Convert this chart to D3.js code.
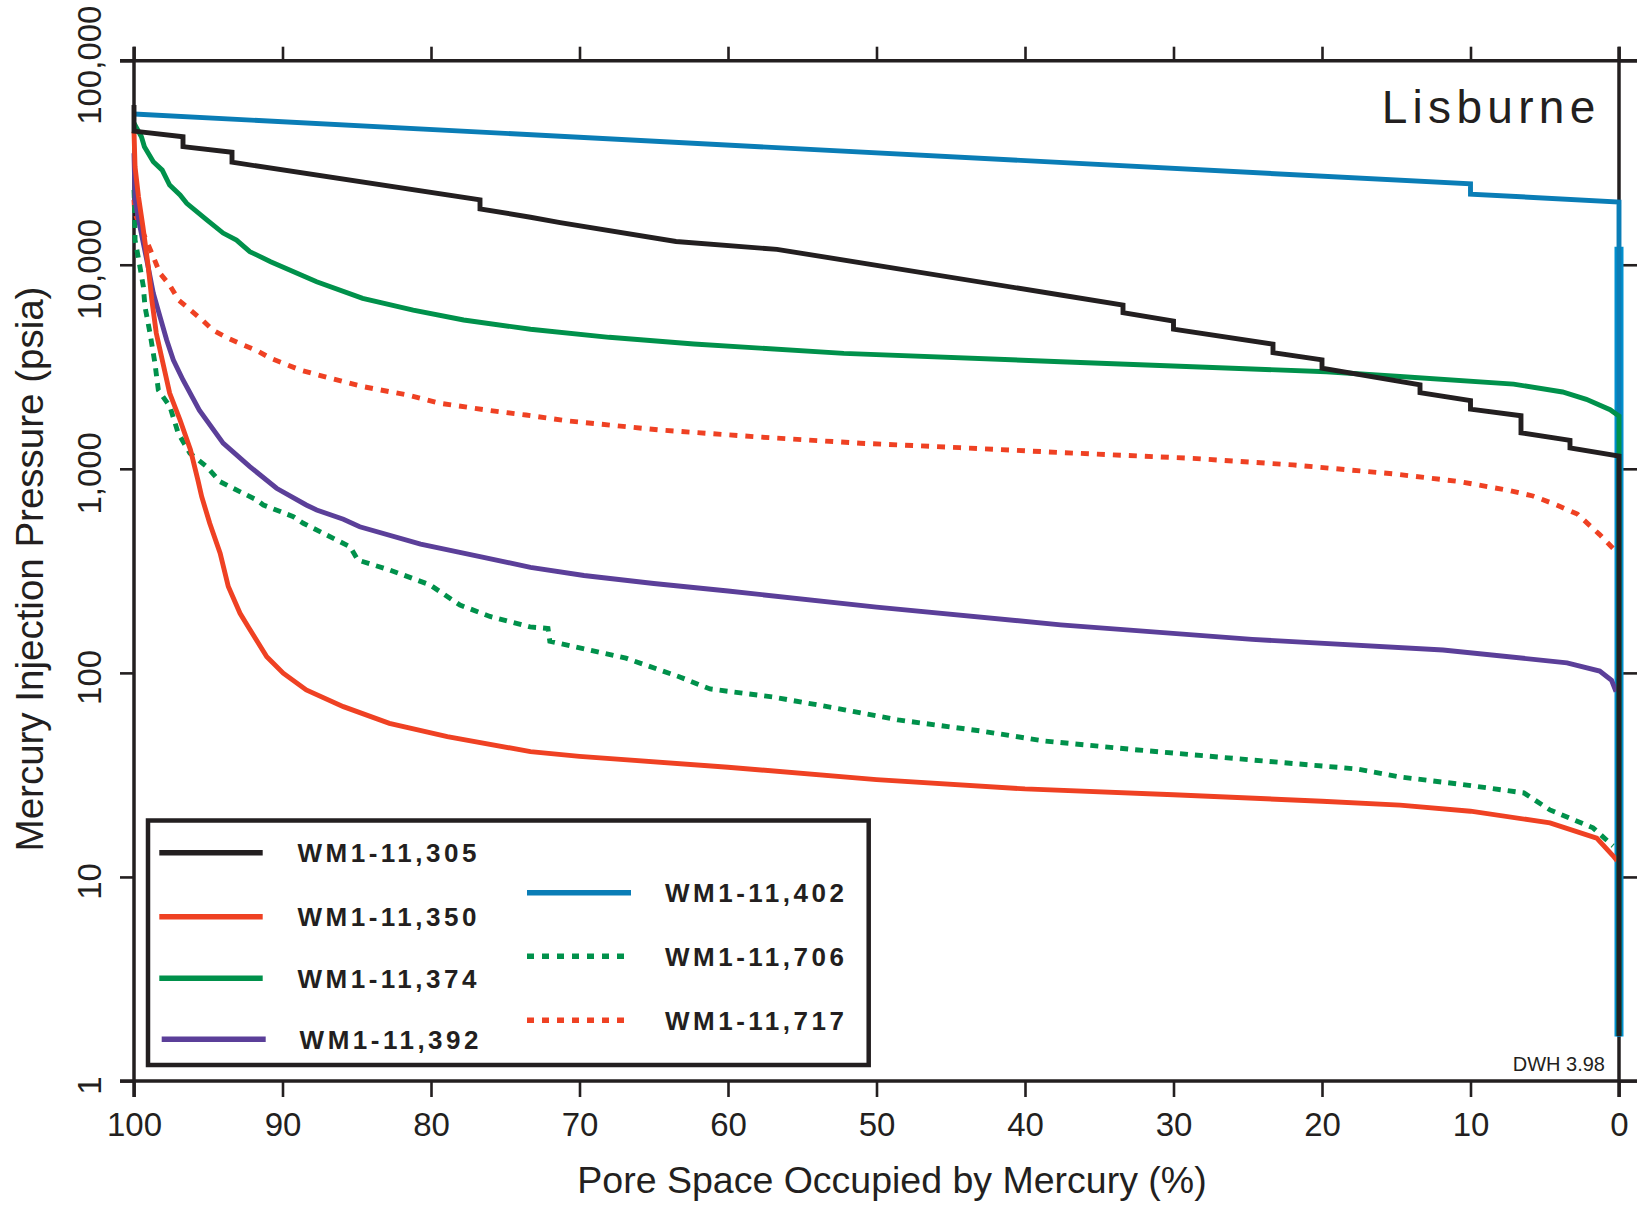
<!DOCTYPE html>
<html><head><meta charset="utf-8">
<script src="https://cdn.jsdelivr.net/npm/d3@7"></script>
<style>body{margin:0;background:#fff}svg{display:block}</style>
</head><body>
<svg id="c" width="1637" height="1207"></svg>
<script>
// ---------- data ----------
const xTicks = [100, 90, 80, 70, 60, 50, 40, 30, 20, 10, 0];
const xTickLabels = ["100","90","80","70","60","50","40","30","20","10","0"];
const yTicks = [1, 10, 100, 1000, 10000, 100000];
const yTickLabels = ["1","10","100","1,000","10,000","100,000"];

const seriesNames = ["WM1-11,305","WM1-11,350","WM1-11,374","WM1-11,392","WM1-11,402","WM1-11,706","WM1-11,717"];

// [pore space occupied %, mercury injection pressure psia]
const s305 = [[100,60700],[100,45200],[96.7,42400],[96.7,37900],[93.4,35600],[93.4,31800],[76.7,20800],[76.7,18800],[73.3,17100],[71.3,16100],[63.5,13000],[56.7,11900],[37.6,7110],[33.4,6350],[33.4,5820],[30.0,5300],[30.0,4830],[23.3,4080],[23.3,3710],[20.0,3420],[20.0,3110],[13.4,2580],[13.4,2360],[10.0,2160],[10.0,1960],[6.6,1820],[6.6,1500],[3.3,1380],[3.3,1265],[0,1156],[0,1.66]];
const s350 = [[100,44900],[99.93,30200],[99.7,21600],[99.4,15400],[99.04,9780],[98.8,6720],[98.5,4620],[98.0,3170],[97.6,2350],[96.9,1735],[96.2,1240],[95.7,882],[95.44,730],[94.9,541],[94.2,386],[93.65,265],[92.86,196],[92.3,168],[91.06,120],[89.95,99.6],[88.4,82.5],[85.9,68.3],[82.8,56.6],[78.9,48.7],[73.3,41.1],[70,39],[60,34.5],[50,30],[40,27],[30,25.3],[20,23.5],[14.75,22.5],[10,21],[4.65,18.4],[1.5,15.5],[0.4,12.7],[0.13,12]];
const s374 = [[100,49400],[99.5,42400],[99.3,37900],[98.7,32000],[98.1,29100],[97.6,24600],[96.9,22000],[96.45,20000],[95.1,16600],[94.0,14300],[93.1,13200],[92.2,11600],[90.8,10350],[87.7,8260],[84.6,6850],[81.2,6000],[77.8,5360],[73.3,4830],[68.0,4410],[62.3,4090],[52.2,3680],[37.6,3350],[19.7,2990],[14.75,2835],[7.1,2600],[3.8,2380],[2.2,2190],[0.6,1950],[0,1815],[0,1.66]];
const s392 = [[100,35200],[99.93,20800],[99.6,15400],[99.14,10550],[98.7,7250],[98.25,5570],[97.8,4280],[97.35,3415],[96.7,2725],[95.6,1940],[94.0,1335],[92.2,1025],[90.4,803],[88.4,665],[87.7,628],[85.9,566],[84.8,520],[80.7,428],[76.7,371],[73.3,329],[69.7,300],[65,274],[60,252],[50,210],[37.6,172],[24.7,146],[11.85,129.5],[3.5,112],[1.3,102],[0.5,92],[0.2,81]];
const s402 = [[100,54800],[10,24900],[10,22200],[0,20300],[0,12260],[0,1.65]];
const s706 = [[100,23250],[99.95,18550],[99.93,13230],[99.6,9780],[99.37,7810],[99.26,6230],[98.92,4615],[98.59,3290],[98.36,2430],[97.58,2016],[97.02,1493],[96.23,1192],[95.1,1024],[94.21,865],[93.54,817],[91.74,704],[91.29,665],[89.27,583],[88.6,541],[85.45,415],[84.92,357],[82.76,319],[80.07,270],[78.05,215],[76.03,189],[73.33,168],[72.12,165],[72.0,143],[66.87,118],[63.33,96],[61.21,83.4],[57.0,76.2],[52.79,67.3],[48.55,58.8],[42.96,51.9],[38.72,46.4],[32.39,41.9],[24.65,37.4],[17.64,33.8],[14.75,30.9],[10.24,28.2],[6.4,25.8],[4.65,21.3],[1.75,17.4],[0.4,14.2]];
const s717 = [[100,20800],[99.95,17900],[98.7,10950],[98.25,9080],[97.6,7960],[97.0,6720],[96.2,6000],[95.4,5360],[94.7,4790],[93.65,4360],[92.75,4080],[91.7,3790],[90.8,3480],[88.8,3050],[86.8,2780],[84.6,2530],[81.6,2300],[79.4,2095],[76.0,1930],[73.6,1835],[70.9,1720],[64.6,1550],[57.8,1430],[51.1,1335],[44.4,1270],[37.4,1200],[28.7,1125],[21.95,1045],[15.2,945],[10.7,865],[7.3,780],[5.8,736],[4.2,665],[2.8,600],[1.3,476],[0.3,400]];

// ---------- setup ----------
const W = 1637, H = 1207;
const ink = "#231f20";
const FONT = "'Liberation Sans', Arial, Helvetica, sans-serif";
const svg = d3.select("#c");
svg.append("rect").attr("width", W).attr("height", H).attr("fill", "#fff");

const x = d3.scaleLinear().domain([100, 0]).range([134, 1619]);
const y = d3.scaleLog().domain([1, 100000]).range([1081, 60.7]);

function styleAxis(g, w) {
  g.select(".domain").remove();
  g.selectAll(".tick line").attr("stroke", ink).attr("stroke-width", w);
  g.selectAll("text").attr("fill", ink).attr("font-family", FONT);
}

// top ticks
svg.append("g").attr("transform", `translate(0,${y(100000)})`)
  .call(d3.axisTop(x).tickValues(xTicks).tickSize(14).tickFormat(""))
  .call(g => styleAxis(g, 2.6));
// bottom ticks + labels
svg.append("g").attr("transform", `translate(0,${y(1)})`)
  .call(d3.axisBottom(x).tickValues(xTicks).tickSize(16).tickPadding(15.5)
    .tickFormat((d, i) => xTickLabels[i]))
  .call(g => styleAxis(g, 2.6))
  .call(g => g.selectAll("text").attr("font-size", 33));
// right ticks
svg.append("g").attr("transform", `translate(${x(0)},0)`)
  .call(d3.axisRight(y).tickValues(yTicks).tickSize(18).tickFormat(""))
  .call(g => styleAxis(g, 2.6));
// left ticks + rotated labels
svg.append("g").attr("transform", `translate(${x(100)},0)`)
  .call(d3.axisLeft(y).tickValues(yTicks).tickSize(14).tickFormat((d, i) => yTickLabels[i]))
  .call(g => styleAxis(g, 2.6))
  .call(g => g.selectAll("text")
    .attr("x", null).attr("dy", null).attr("y", null)
    .attr("font-size", 33).attr("text-anchor", "middle")
    .attr("transform", "translate(-33,4) rotate(-90)"));

// frame lines (extending past the corners)
const fr = svg.append("g").attr("stroke", ink).attr("stroke-width", 3.5).attr("stroke-linecap", "butt");
fr.append("line").attr("x1", x(100) - 14).attr("x2", W).attr("y1", y(100000)).attr("y2", y(100000));
fr.append("line").attr("x1", x(100) - 14).attr("x2", W).attr("y1", y(1)).attr("y2", y(1));
fr.append("line").attr("x1", x(100)).attr("x2", x(100)).attr("y1", y(100000) - 14).attr("y2", y(1) + 16);
fr.append("line").attr("x1", x(0)).attr("x2", x(0)).attr("y1", y(100000) - 14).attr("y2", y(1) + 16);

// ---------- series ----------
const line = d3.line().x(d => x(d[0])).y(d => y(d[1]));
const series = [
  {name: seriesNames[4], data: s402, color: "#0a7db6", dash: null},
  {name: seriesNames[6], data: s717, color: "#ef4123", dash: "8,8"},
  {name: seriesNames[5], data: s706, color: "#00914b", dash: "8,7"},
  {name: seriesNames[3], data: s392, color: "#5b3f99", dash: null},
  {name: seriesNames[1], data: s350, color: "#ef4123", dash: null},
  {name: seriesNames[2], data: s374, color: "#00914b", dash: null},
  {name: seriesNames[0], data: s305, color: ink, dash: null}
];
const gS = svg.append("g").attr("fill", "none");
// wide light-blue tail of the 11,402 curve
gS.append("path").attr("d", line(s402.slice(-2))).attr("stroke", "#0090cf").attr("stroke-width", 9);
series.forEach(s => {
  gS.append("path").attr("d", line(s.data))
    .attr("stroke", s.color).attr("stroke-width", 4.9)
    .attr("stroke-linejoin", "miter").attr("stroke-miterlimit", 4)
    .attr("stroke-dasharray", s.dash);
});

// ---------- texts ----------
svg.append("text").attr("x", 1381.7).attr("y", 123.3).text("Lisburne")
  .attr("font-family", FONT).attr("font-size", 46).attr("letter-spacing", 5.3).attr("fill", ink);
svg.append("text").attr("x", 1605).attr("y", 1071).text("DWH 3.98")
  .attr("font-family", FONT).attr("font-size", 20).attr("text-anchor", "end").attr("fill", ink);
svg.append("text").attr("transform", "translate(43,569) rotate(-90)").text("Mercury Injection Pressure (psia)")
  .attr("font-family", FONT).attr("font-size", 38.5).attr("text-anchor", "middle").attr("fill", ink);
svg.append("text").attr("x", 892).attr("y", 1193).text("Pore Space Occupied by Mercury (%)")
  .attr("font-family", FONT).attr("font-size", 37.5).attr("text-anchor", "middle").attr("fill", ink);

// ---------- legend ----------
const lg = svg.append("g");
lg.append("rect").attr("x", 148).attr("y", 820.5).attr("width", 720.7).attr("height", 244.5)
  .attr("fill", "#fff").attr("stroke", ink).attr("stroke-width", 4.5);
const legendItems = [
  {name: seriesNames[0], color: ink, dash: null, x1: 159.3, x2: 262.7, ly: 852.7, tx: 297.5},
  {name: seriesNames[1], color: "#ef4123", dash: null, x1: 159.3, x2: 262.7, ly: 916.7, tx: 297.5},
  {name: seriesNames[2], color: "#00914b", dash: null, x1: 159.3, x2: 262.7, ly: 978.3, tx: 297.5},
  {name: seriesNames[3], color: "#5b3f99", dash: null, x1: 161.7, x2: 265.7, ly: 1039.3, tx: 299.6},
  {name: seriesNames[4], color: "#0a7db6", dash: null, x1: 527, x2: 631, ly: 892.7, tx: 665},
  {name: seriesNames[5], color: "#00914b", dash: "7,8", x1: 527, x2: 631, ly: 956.3, tx: 665},
  {name: seriesNames[6], color: "#ef4123", dash: "7,8", x1: 527, x2: 631, ly: 1020.3, tx: 665}
];
legendItems.forEach(it => {
  lg.append("line").attr("x1", it.x1).attr("x2", it.x2).attr("y1", it.ly).attr("y2", it.ly)
    .attr("stroke", it.color).attr("stroke-width", 5.5).attr("stroke-dasharray", it.dash);
  lg.append("text").attr("x", it.tx).attr("y", it.ly + 9.3).text(it.name)
    .attr("font-family", FONT).attr("font-weight", "bold").attr("font-size", 26)
    .attr("letter-spacing", 3.5).attr("fill", ink);
});
</script>
</body></html>
